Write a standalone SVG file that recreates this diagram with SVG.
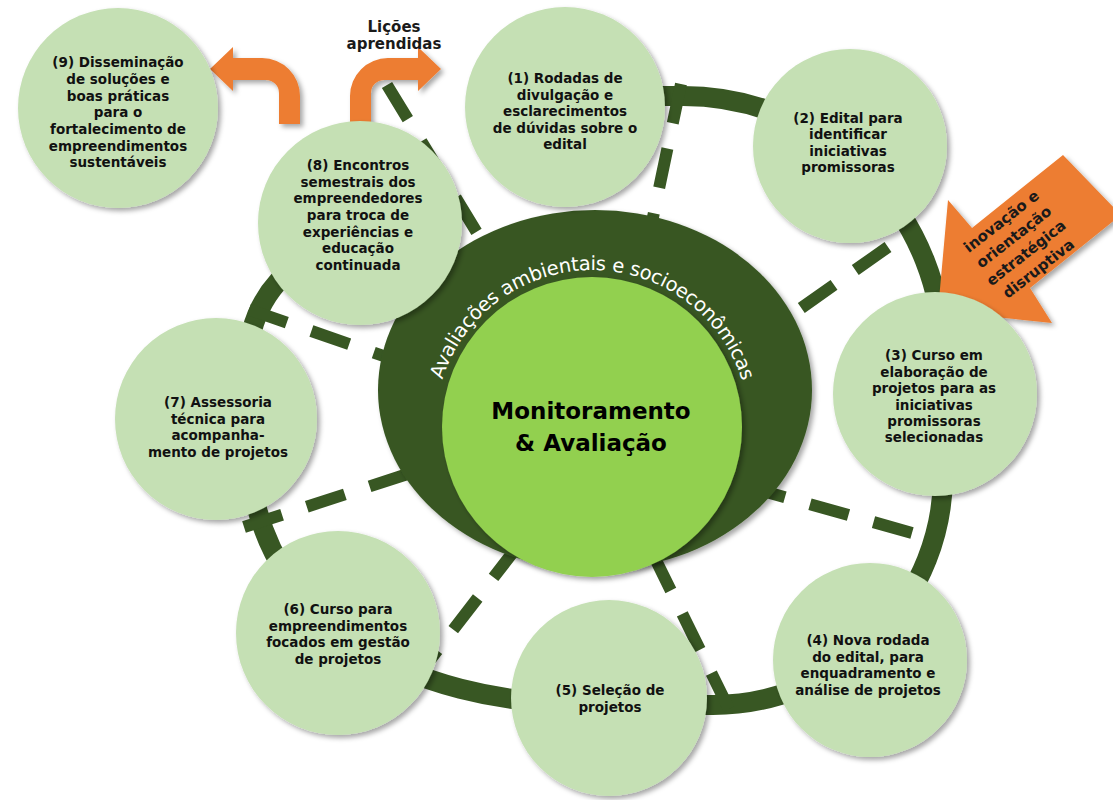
<svg xmlns="http://www.w3.org/2000/svg" width="1113" height="800" viewBox="0 0 1113 800">
<defs>
<style>
.node circle{fill:#c5e0b4}
.node text{font-family:"DejaVu Sans",sans-serif;font-weight:bold;font-size:13.5px;fill:#111;text-anchor:middle}
.spoke{stroke:#385723;stroke-width:12;stroke-dasharray:40 26;fill:none}
.ring{stroke:#385723;stroke-width:20;fill:none}
.arrow{fill:#ed7d31}
.albl{font-family:"DejaVu Sans",sans-serif;font-weight:bold;font-size:15px;fill:#1a1a1a;text-anchor:middle}
</style>
<filter id="sh" x="-20%" y="-20%" width="140%" height="140%">
<feDropShadow dx="3" dy="3" stdDeviation="2.5" flood-color="#000" flood-opacity="0.35"/>
</filter>
<path id="arcText" d="M 442.3 379.8 A 157 157 0 0 1 741.3 378.5"/>
</defs>
<rect width="1113" height="800" fill="#ffffff"/>

<g id="connectors">
<path class="ring" d="M 560 96 L 683 96 A 260 260 0 0 1 943 356 L 943 475 A 230 230 0 0 1 713 705 L 600 705 C 400 705 247 620 247 430 L 247 370 Q 247 300 300 262"/>
<line class="spoke" x1="387" y1="85" x2="543" y2="341"/>
<line class="spoke" x1="681" y1="84" x2="629.5" y2="328.8"/>
<line class="spoke" x1="888" y1="247" x2="683.5" y2="390.8"/>
<line class="spoke" x1="912" y1="533" x2="671" y2="465"/>
<line class="spoke" x1="729" y1="709" x2="619" y2="485"/>
<line class="spoke" x1="413" y1="682" x2="565.5" y2="484"/>
<line class="spoke" x1="244" y1="527" x2="482" y2="450"/>
<line class="spoke" x1="249" y1="309.5" x2="485" y2="391"/>
</g>

<g id="center">
<ellipse cx="595" cy="390" rx="217" ry="180" fill="#385723" filter="url(#sh)"/>
<circle cx="592" cy="427" r="150" fill="#92d050" filter="url(#sh)"/>
<text font-family="DejaVu Sans, sans-serif" font-size="19.5" fill="#ffffff"><textPath href="#arcText" textLength="398" lengthAdjust="spacing">Avaliações ambientais e socioeconômicas</textPath></text>
<text font-family="DejaVu Sans, sans-serif" font-weight="bold" font-size="23" fill="#000" text-anchor="middle"><tspan x="591" y="419">Monitoramento</tspan><tspan x="591" y="451">&amp; Avaliação</tspan></text>
</g>

<g id="arrows">
<path class="arrow" filter="url(#sh)" d="M 210 69 L 233 47 L 233 58 L 262 58 A 38 38 0 0 1 300 96 L 300 124 L 279 124 L 279 93 A 13 13 0 0 0 266 80 L 233 80 L 233 91 Z"/>
<path class="arrow" filter="url(#sh)" d="M 350 125 L 350 96 A 38 38 0 0 1 388 58 L 418 58 L 418 47 L 441 69 L 418 91 L 418 80 L 384 80 A 13 13 0 0 0 371 93 L 371 125 Z"/>
<g id="arrow-innovation">
<path class="arrow" filter="url(#sh)" d="M 1063 155 L 972 228 L 948 200 L 938 311 L 1052 323 L 1030 288 L 1121 215 Z"/>
<text class="albl" transform="translate(1020,245) rotate(-38)"><tspan x="0" y="-25">inovação e</tspan><tspan x="0" y="-5">orientação</tspan><tspan x="0" y="15">estratégica</tspan><tspan x="0" y="35">disruptiva</tspan></text>
</g>
</g>

<g id="node-9" class="node"><circle cx="118" cy="108" r="100" filter="url(#sh)"/>
<text><tspan x="118" y="67">(9) Disseminação</tspan><tspan x="118" y="84">de soluções e</tspan><tspan x="118" y="101">boas práticas</tspan><tspan x="118" y="117">para o</tspan><tspan x="118" y="134">fortalecimento de</tspan><tspan x="118" y="151">empreendimentos</tspan><tspan x="118" y="167">sustentáveis</tspan></text></g>

<g id="node-1" class="node"><circle cx="565" cy="107" r="100" filter="url(#sh)"/>
<text><tspan x="565" y="83">(1) Rodadas de</tspan><tspan x="565" y="100">divulgação e</tspan><tspan x="565" y="116">esclarecimentos</tspan><tspan x="565" y="133">de dúvidas sobre o</tspan><tspan x="565" y="149">edital</tspan></text></g>

<g id="node-2" class="node"><circle cx="850" cy="146" r="97" filter="url(#sh)"/>
<text><tspan x="848" y="123">(2) Edital para</tspan><tspan x="848" y="139">identificar</tspan><tspan x="848" y="156">iniciativas</tspan><tspan x="848" y="172">promissoras</tspan></text></g>

<g id="node-8" class="node"><circle cx="360" cy="223" r="102" filter="url(#sh)"/>
<text><tspan x="358" y="170">(8) Encontros</tspan><tspan x="358" y="187">semestrais dos</tspan><tspan x="358" y="203">empreendedores</tspan><tspan x="358" y="220">para troca de</tspan><tspan x="358" y="237">experiências e</tspan><tspan x="358" y="253">educação</tspan><tspan x="358" y="270">continuada</tspan></text></g>

<g id="node-3" class="node"><circle cx="935" cy="394" r="102" filter="url(#sh)"/>
<text><tspan x="934" y="360">(3) Curso em</tspan><tspan x="934" y="377">elaboração de</tspan><tspan x="934" y="393">projetos para as</tspan><tspan x="934" y="410">iniciativas</tspan><tspan x="934" y="426">promissoras</tspan><tspan x="934" y="442">selecionadas</tspan></text></g>

<g id="node-7" class="node"><circle cx="216" cy="419" r="101" filter="url(#sh)"/>
<text><tspan x="218" y="407">(7) Assessoria</tspan><tspan x="218" y="424">técnica para</tspan><tspan x="218" y="440">acompanha-</tspan><tspan x="218" y="457">mento de projetos</tspan></text></g>

<g id="node-6" class="node"><circle cx="338" cy="633" r="102" filter="url(#sh)"/>
<text><tspan x="338" y="614">(6) Curso para</tspan><tspan x="338" y="631">empreendimentos</tspan><tspan x="338" y="647">focados em gestão</tspan><tspan x="338" y="664">de projetos</tspan></text></g>

<g id="node-5" class="node"><circle cx="609" cy="698" r="98" filter="url(#sh)"/>
<text><tspan x="610" y="695">(5) Seleção de</tspan><tspan x="610" y="712">projetos</tspan></text></g>

<g id="node-4" class="node"><circle cx="870" cy="660" r="97" filter="url(#sh)"/>
<text><tspan x="868" y="645">(4) Nova rodada</tspan><tspan x="868" y="662">do edital, para</tspan><tspan x="868" y="678">enquadramento e</tspan><tspan x="868" y="695">análise de projetos</tspan></text></g>

<g id="label-licoes">
<text class="albl"><tspan x="394" y="32">Lições</tspan><tspan x="394" y="49">aprendidas</tspan></text>
</g>
</svg>
